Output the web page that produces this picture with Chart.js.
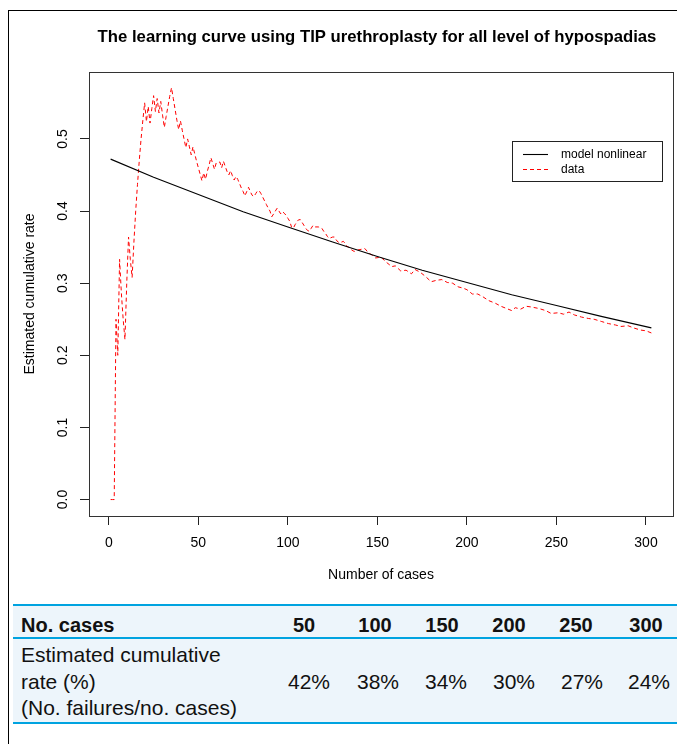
<!DOCTYPE html>
<html><head><meta charset="utf-8">
<script src="https://cdn.jsdelivr.net/npm/chart.js@4/dist/chart.umd.min.js"></script>
<style>
html,body{margin:0;padding:0;background:#fff;width:677px;height:744px;overflow:hidden;font-family:"Liberation Sans",Arial,sans-serif;}
#c{position:absolute;left:0;top:0;}
.frameTop{position:absolute;left:8px;top:10px;width:669px;height:1px;background:#000;}
.frameLeft{position:absolute;left:8px;top:10px;width:1px;height:734px;background:#000;}
#tbl{position:absolute;left:13px;top:604px;width:664px;height:120px;background:#edf5fb;}
.bl{position:absolute;left:13px;width:664px;height:2px;background:#00a3e0;}
.t{position:absolute;white-space:nowrap;color:#111;}
.h{font-weight:bold;font-size:20px;line-height:20px;}
.r{font-size:21px;line-height:21px;}
.c{transform:translateX(-50%);}
</style></head>
<body>
<div class="frameTop"></div><div class="frameLeft"></div>
<div id="tbl"></div>
<div class="bl" style="top:604px"></div>
<div class="bl" style="top:637px"></div>
<div class="bl" style="top:722px"></div>
<div id="tableText"></div>
<canvas id="c" width="677" height="600"></canvas>
<script>
const titleText = "The learning curve using TIP urethroplasty for all level of hypospadias";
const xTitle = "Number of cases";
const yTitle = "Estimated cumulative rate";
const seriesLabels = ["model nonlinear", "data"];
const xTicks = [0, 50, 100, 150, 200, 250, 300];
const yTicks = [0, 0.1, 0.2, 0.3, 0.4, 0.5];
const yTickLabels = ["0.0", "0.1", "0.2", "0.3", "0.4", "0.5"];

const modelCases = [1, 25, 50, 75, 100, 125, 150, 175, 200, 225, 250, 275, 303];
const modelRate = [0.472, 0.447, 0.423, 0.399, 0.378, 0.357, 0.337, 0.318, 0.301, 0.284, 0.269, 0.254, 0.238];

const dataCases = [1,2,3,4,5,6,7,8,9,10,11,12,13,14,15,16,17,18,19,20,21,22,23,24,25,26,27,28,29,30,
31,32,33,34,35,36,37,38,39,40,41,42,43,44,45,46,47,48,49,50,51,52,53,54,55,56,57,58,59,60,
62,63,64,65,66,67,68,69,70,71,72,73,74,75,76,77,78,79,80,81,82,83,84,85,86,87,88,89,90,
91,92,93,94,95,96,97,98,99,100,101,102,103,104,105,106,107,108,109,110,111,112,113,114,115,
117,119,120,121,122,123,125,126,127,128,129,131,132,133,134,135,137,139,141,143,145,147,149,152,
155,158,160,163,166,169,171,174,177,180,183,186,189,192,195,198,200,203,206,209,212,216,219,222,
225,227,230,233,236,240,244,247,251,254,257,260,264,268,271,275,279,283,286,290,293,297,300,303];
const dataRate = [0,0,0,0.25,0.20,0.333,0.286,0.25,0.222,0.30,0.364,0.333,0.308,0.357,0.40,0.437,0.47,0.50,0.526,0.55,
0.524,0.545,0.522,0.542,0.56,0.538,0.556,0.536,0.552,0.533,0.516,0.531,0.545,0.559,0.571,0.556,0.541,0.526,0.513,0.525,
0.512,0.50,0.488,0.50,0.489,0.478,0.489,0.479,0.469,0.46,0.451,0.442,0.453,0.444,0.455,0.464,0.474,0.466,0.458,0.467,
0.468,0.46,0.469,0.462,0.455,0.45,0.456,0.449,0.443,0.448,0.444,0.438,0.432,0.427,0.421,0.427,0.433,0.427,0.422,0.42,
0.424,0.428,0.428,0.424,0.419,0.414,0.409,0.404,0.40,0.392,0.396,0.40,0.404,0.40,0.396,0.399,0.397,0.394,0.39,0.386,
0.378,0.376,0.381,0.385,0.388,0.388,0.384,0.38,0.376,0.373,0.372,0.376,0.38,0.378,
0.378,0.376,0.372,0.369,0.365,0.362,0.364,0.364,0.36,0.357,0.356,0.358,0.355,0.351,0.35,0.347,0.344,0.346,0.347,0.348,
0.342,0.339,0.335,0.336,
0.329,0.323,0.324,0.317,0.318,0.313,0.319,0.315,0.309,0.302,0.304,0.305,0.301,0.300,0.295,0.293,0.291,0.285,0.285,0.281,
0.276,0.272,0.268,0.265,0.262,0.266,0.264,0.268,0.267,0.265,0.262,0.258,0.259,0.257,0.26,0.256,0.253,0.251,0.25,0.247,
0.244,0.242,0.24,0.241,0.238,0.235,0.234,0.231];

const tableHeadLabel = "No. cases";
const tableCases = ["50", "100", "150", "200", "250", "300"];
const tableRowLines = ["Estimated cumulative", "rate (%)", "(No. failures/no. cases)"];
const tableRates = ["42%", "38%", "34%", "30%", "27%", "24%"];

// ---- table (HTML text) ----
(function(){
  const headCenters = [304, 375, 442, 509, 576, 646];
  const rateCenters = [309, 378, 446, 514, 582, 649];
  const lineTops = [643.7, 670.7, 697.2];
  let h = '';
  h += `<div class="t h" style="left:21px;top:614.8px">${tableHeadLabel}</div>`;
  tableCases.forEach((t,i)=>{ h += `<div class="t h c" style="left:${headCenters[i]}px;top:614.8px">${t}</div>`; });
  tableRowLines.forEach((t,i)=>{ h += `<div class="t r" style="left:21px;top:${lineTops[i]}px">${t}</div>`; });
  tableRates.forEach((t,i)=>{ h += `<div class="t r c" style="left:${rateCenters[i]}px;top:${lineTops[1]}px">${t}</div>`; });
  document.getElementById('tableText').innerHTML = h;
})();

const FONT = '"Liberation Sans", Arial, Helvetica, sans-serif';
Chart.defaults.font.family = FONT;
Chart.defaults.color = '#000';

const framePlugin = {
  id: 'frame',
  afterDraw(ch) {
    const {ctx, chartArea: a} = ch;
    ctx.save();
    // plot box
    ctx.strokeStyle = '#333';
    ctx.lineWidth = 1;
    ctx.strokeRect(Math.round(a.left) + 0.5, Math.round(a.top) + 0.5, Math.round(a.right - a.left), Math.round(a.bottom - a.top));
    // main title
    ctx.fillStyle = '#000';
    let fs = 15;
    ctx.font = `bold ${fs}px ${FONT}`;
    const w = ctx.measureText(titleText).width;
    fs = fs * 559 / w;
    ctx.font = `bold ${fs}px ${FONT}`;
    ctx.textAlign = 'center';
    ctx.textBaseline = 'middle';
    ctx.fillText(titleText, (a.left + a.right) / 2 - 4, 37);
    // legend
    const bx = a.right - 161, by = a.top + 69, bw = 150, bh = 40;
    ctx.strokeStyle = '#222';
    ctx.lineWidth = 1;
    ctx.strokeRect(Math.round(bx) + 0.5, Math.round(by) + 0.5, bw, bh);
    ch.data.datasets.forEach((ds, i) => {
      const yy = by + 13.5 + i * 15;
      ctx.beginPath();
      ctx.strokeStyle = ds.borderColor;
      ctx.lineWidth = ds.borderWidth;
      ctx.setLineDash(ds.borderDash || []);
      ctx.moveTo(bx + 11, yy);
      ctx.lineTo(bx + 36, yy);
      ctx.stroke();
      ctx.setLineDash([]);
      ctx.fillStyle = '#000';
      ctx.font = `12px ${FONT}`;
      ctx.textAlign = 'left';
      ctx.textBaseline = 'middle';
      ctx.fillText(ds.label, bx + 49, yy);
    });
    ctx.restore();
  }
};

new Chart(document.getElementById('c'), {
  type: 'line',
  data: {
    datasets: [
      { label: seriesLabels[0], data: modelCases.map((x, i) => ({x, y: modelRate[i]})),
        borderColor: '#000000', borderWidth: 1.1, pointRadius: 0, tension: 0, fill: false },
      { label: seriesLabels[1], data: dataCases.map((x, i) => ({x, y: dataRate[i]})),
        borderColor: '#ff0000', borderWidth: 1, borderDash: [4, 3], pointRadius: 0, tension: 0, fill: false }
    ]
  },
  options: {
    responsive: false, animation: false, devicePixelRatio: 1,
    layout: { padding: { left: 0, top: 72, right: 4, bottom: 0 } },
    plugins: { legend: { display: false }, title: { display: false }, tooltip: { enabled: false } },
    scales: {
      x: {
        type: 'linear', min: -11.08, max: 315.08,
        afterBuildTicks: s => { s.ticks = xTicks.map(v => ({value: v})); },
        afterFit: s => { s.height = 84; },
        grid: { drawOnChartArea: false, drawTicks: true, tickLength: 9, color: '#222', lineWidth: 1 },
        border: { display: false },
        ticks: { color: '#000', font: { size: 14 }, padding: 10, maxRotation: 0, autoSkip: false },
        title: { display: true, text: xTitle, color: '#000', font: { size: 14 }, padding: { top: 0, bottom: 16 } }
      },
      y: {
        type: 'linear', min: -0.0228, max: 0.5928,
        afterBuildTicks: s => { s.ticks = yTicks.map(v => ({value: v})); },
        afterFit: s => { s.width = 89; },
        grid: { drawOnChartArea: false, drawTicks: true, tickLength: 9, color: '#222', lineWidth: 1 },
        border: { display: false },
        ticks: { color: '#000', font: { size: 14 }, padding: 7.5, minRotation: 90, maxRotation: 90, crossAlign: 'center', autoSkip: false,
                 callback: (v, i) => yTickLabels[i] },
        title: { display: true, text: yTitle, color: '#000', font: { size: 14 }, padding: { top: 22, bottom: 0 } }
      }
    }
  },
  plugins: [framePlugin]
});
</script>
</body></html>
